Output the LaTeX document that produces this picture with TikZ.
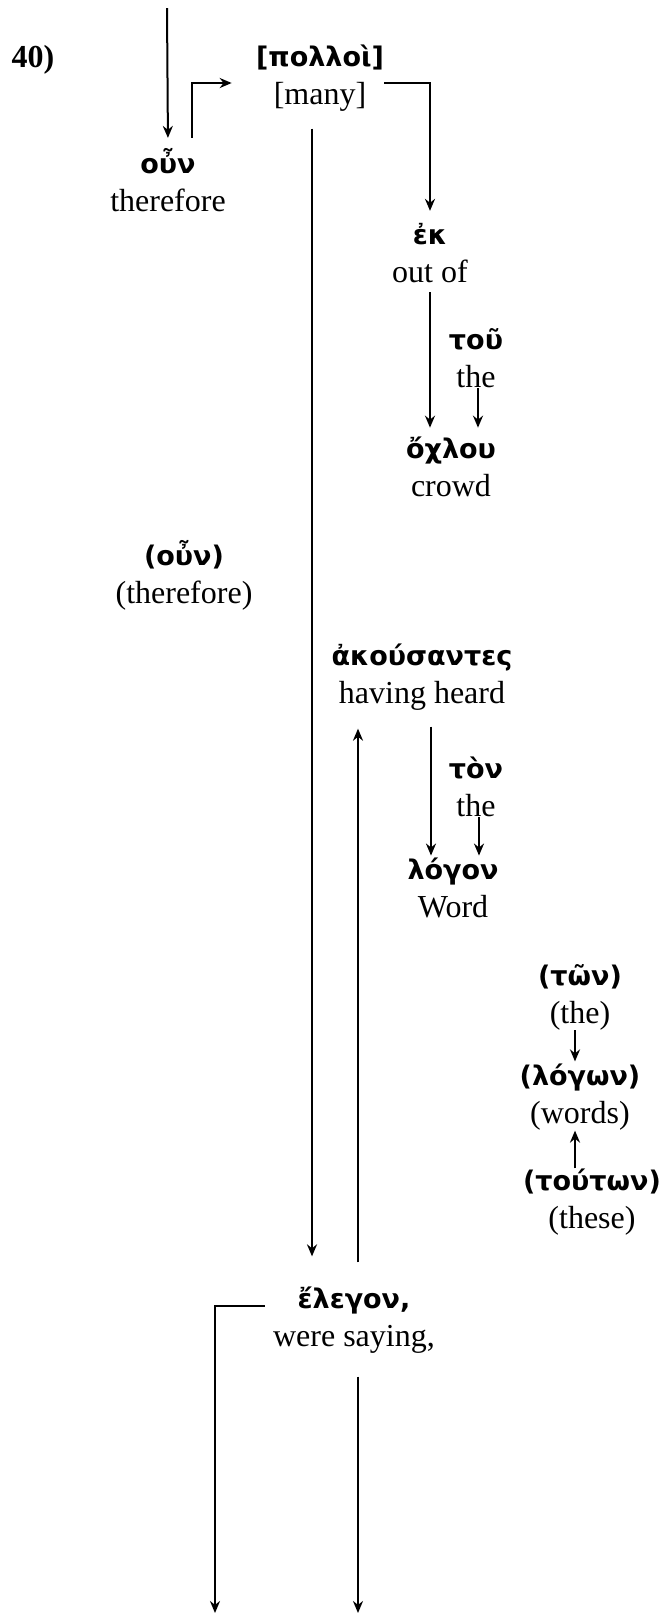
\documentclass[tikz,border=0pt]{standalone}
\usepackage{fontspec}
\setmainfont{Liberation Serif}
\newfontfamily\grkfont{DejaVu Sans}
\usetikzlibrary{arrows.meta}
\newcommand{\gk}[1]{{\grkfont\bfseries\fontsize{13.5}{19}\selectfont #1}}

\begin{document}
\begin{tikzpicture}[x=0.5pt, y=-0.5pt, >={Stealth[length=6pt,width=5pt]},
  word/.style={align=center, inner sep=0pt, font=\fontsize{16}{19}\selectfont},
  link/.style={->, line width=1pt}]
\useasboundingbox (0,0) rectangle (664,1614);
\node[font=\bfseries\fontsize{16}{19}\selectfont] (n40) at (33,60) {40)};
\node[word] (oun) at (168,180) {\gk{οὖν}\\therefore};
\node[word] (polloi) at (320,78) {\gk{[πολλοὶ]}\\{}[many]};
\node[word] (ek) at (430,253) {\gk{ἐκ}\\out of};
\node[word] (tou) at (476,358) {\gk{τοῦ}\\the};
\node[word] (ochlou) at (451,467) {\gk{ὄχλου}\\crowd};
\node[word] (oun2) at (184,575) {\gk{(οὖν)}\\(therefore)};
\node[word] (akous) at (422,677) {\gk{ἀκούσαντες}\\having heard};
\node[word] (ton) at (476,787) {\gk{τὸν}\\the};
\node[word] (logon) at (453,888) {\gk{λόγον}\\Word};
\node[word] (twn) at (580,997) {\gk{(τῶν)}\\(the)};
\node[word] (logwn) at (580,1097) {\gk{(λόγων)}\\(words)};
\node[word] (toutwn) at (592,1202) {\gk{(τούτων)}\\(these)};
\node[word] (elegon) at (354,1320) {\gk{ἔλεγον,}\\were saying,};
% free ends
\coordinate (top) at (167,8);
\coordinate (endL) at (215,1613);
\coordinate (endR) at (358,1613);
\coordinate (pl) at ([xshift=-4pt]polloi.south);
\coordinate (el) at ([xshift=2pt]elegon.north);
\coordinate (ak) at ([xshift=4.5pt]akous.south);
\coordinate (tw) at ([xshift=-2.5pt]twn.south);
\coordinate (tt) at ([xshift=-8.5pt]toutwn.north);
% links
\draw[link, shorten >=5pt] (top) -- (oun.north);
\draw[link, shorten <=5pt, shorten >=12pt] ([xshift=12pt]oun.north) |- ([yshift=-2.5pt]polloi.west);
\draw[link, shorten >=6pt] ([yshift=-2.5pt]polloi.east) -| (ek.north);
\draw[link, shorten <=8.5pt, shorten >=15pt] (pl) -- (pl |- elegon.north);
\draw[link, shorten <=4.5pt, shorten >=4.5pt] (ek.south) -- (ek.south |- ochlou.north);
\draw[link, shorten >=4.5pt] ([xshift=1pt]tou.south) -- ([xshift=1pt]tou.south |- ochlou.north);
\draw[link, shorten <=8pt, shorten >=1pt] (ak) -- (ak |- logon.north);
\draw[link, shorten >=1pt] ([xshift=1.5pt]ton.south) -- ([xshift=1.5pt]ton.south |- logon.north);
\draw[link, shorten >=1pt] (tw) -- (tw |- logwn.north);
\draw[link] (tt) -- (tt |- logwn.south);
\draw[link, shorten <=12pt, shorten >=9pt] (el) -- (el |- akous.south);
\draw[link] ([xshift=-4pt,yshift=7pt]elegon.west) -| (endL);
\draw[link, shorten <=11.5pt] ([xshift=2pt]elegon.south) -- (endR);
\end{tikzpicture}
\end{document}
